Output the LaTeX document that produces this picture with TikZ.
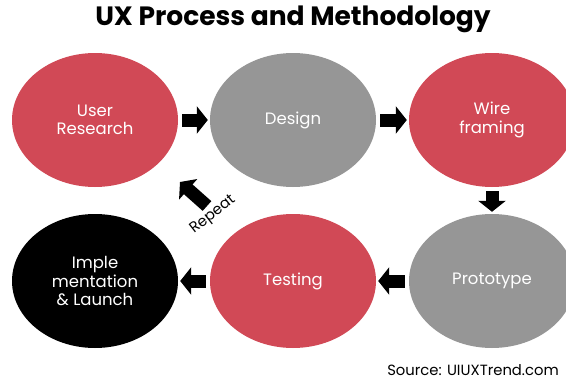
\documentclass[tikz,border=0pt]{standalone}
\usepackage{fontspec}
\setmainfont{Poppins}
\usetikzlibrary{shapes.geometric,arrows.meta}

\definecolor{uxred}{RGB}{209,73,86}
\definecolor{uxgray}{RGB}{150,150,150}

\begin{document}
\begin{tikzpicture}[x=1pt,y=-1pt]
			\useasboundingbox (0,0) rectangle (566,380);
			\begin{scope}
				[
					stage/.style={
						ellipse, minimum width = 166pt, minimum height = 134pt,
						inner sep=0pt, fill=#1, text=white, align=center,
						font=\fontsize{16.5}{18.5}\selectfont
						},
					heading/.style={font=\fontsize{26.5}{30}\selectfont\bfseries},
					note/.style={font=\fontsize{14.8}{16}\selectfont, inner sep=1pt},
				]
				\node(title)[heading] at (293,19) {UX Process and Methodology};

				\node(research)[stage=uxred] at (95,120) {User\\Research};
				\node(design)[stage=uxgray] at (293,120) {Design};
				\node(wire)[stage=uxred] at (492,120) {Wire\\framing};

				\node(launch)[stage=black] at (95,281) {Imple\\mentation\\\& Launch};
				\node(testing)[stage=uxred] at (293,281) {Testing};
				\node(proto)[stage=uxgray] at (492,281) {Prototype};

				\coordinate(repeatTail) at (207,206);
				\coordinate(repeatTip) at (180,182);
				\node(repeat)[note, rotate=38] at (213,215) {Repeat};

				\node(source)[note, anchor=east] at (560,370) {Source: UIUXTrend.com};
			\end{scope}
			\begin{scope}
				[ flow/.style = {line width=13pt, -{Triangle[length=11pt,width=27pt]},
				shorten <=4pt, shorten >=2pt}]
				\path
				(research) edge[flow]       (design)
				(design) edge[flow]         (wire)
				(wire) edge[flow]           (proto)
				(proto) edge[flow]          (testing)
				(testing) edge[flow]        (launch)
				(repeatTail) edge[flow, shorten <=0pt, shorten >=0pt] (repeatTip);
			\end{scope}
		\end{tikzpicture}
\end{document}
